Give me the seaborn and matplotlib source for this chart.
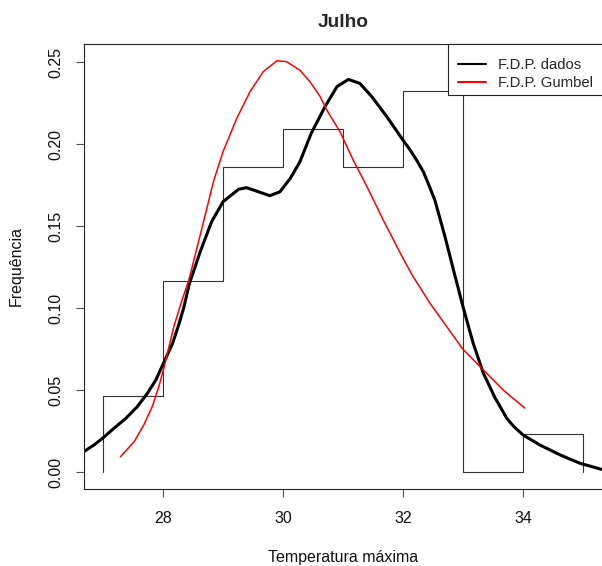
import numpy as np
import pandas as pd
import matplotlib
matplotlib.use("Agg")
import matplotlib.pyplot as plt
from matplotlib.patches import Rectangle
import seaborn as sns

# ---- data ----
bin_edges = [27, 28, 29, 30, 31, 32, 33, 34, 35]
bin_freq = [2/43, 5/43, 8/43, 9/43, 8/43, 10/43, 0.0, 1/43]

kde_x = [26.68, 26.85, 26.99, 27.18, 27.38, 27.57, 27.74, 27.88, 28.02, 28.16,
         28.27, 28.35, 28.44, 28.62, 28.81, 29.00, 29.26, 29.39, 29.59, 29.78,
         29.95, 30.12, 30.28, 30.47, 30.70, 30.90, 31.09, 31.28, 31.48, 31.73,
         32.00, 32.12, 32.23, 32.34, 32.42, 32.53, 32.70, 32.87, 33.00, 33.17,
         33.34, 33.42, 33.53, 33.62, 33.73, 33.84, 34.00, 34.28, 34.62, 34.95,
         35.31]
kde_y = [0.0124, 0.0165, 0.0205, 0.0266, 0.0327, 0.0398, 0.0480, 0.0561, 0.0673, 0.0785,
         0.0907, 0.1008, 0.1150, 0.1343, 0.1526, 0.1648, 0.1724, 0.1734, 0.1709, 0.1685,
         0.1709, 0.1790, 0.1890, 0.2065, 0.2228, 0.2350, 0.2394, 0.2370, 0.2289, 0.2167,
         0.2024, 0.1963, 0.1900, 0.1830, 0.1760, 0.1659, 0.1435, 0.1191, 0.1008, 0.0785,
         0.0602, 0.0541, 0.0455, 0.0398, 0.0327, 0.0280, 0.0226, 0.0165, 0.0104, 0.0053,
         0.0016]

gum_x = [27.29, 27.52, 27.68, 27.82, 27.93, 28.02, 28.10, 28.18, 28.30, 28.43,
         28.62, 28.84, 29.00, 29.23, 29.45, 29.67, 29.90, 30.06, 30.28, 30.45,
         30.62, 30.73, 30.95, 31.17, 31.40, 31.67, 31.90, 32.00, 32.17, 32.45,
         32.73, 33.00, 33.34, 33.67, 34.03]
gum_y = [0.0093, 0.0185, 0.0287, 0.0398, 0.0520, 0.0642, 0.0764, 0.0886, 0.1029, 0.1170,
         0.1445, 0.1770, 0.1953, 0.2157, 0.2319, 0.2441, 0.2508, 0.2502, 0.2451, 0.2380,
         0.2289, 0.2207, 0.2075, 0.1902, 0.1740, 0.1537, 0.1374, 0.1303, 0.1191, 0.1029,
         0.0886, 0.0748, 0.0622, 0.0500, 0.0390]

x_ticks = [28, 30, 32, 34]
y_ticks = [0.00, 0.05, 0.10, 0.15, 0.20, 0.25]
y_tick_labels = ["0.00", "0.05", "0.10", "0.15", "0.20", "0.25"]

title = "Julho"
x_label = "Temperatura máxima"
y_label = "Frequência"
legend_labels = ["F.D.P. dados", "F.D.P. Gumbel"]

# ---- build step path for the histogram outline ----
step_x = [bin_edges[0]] + bin_edges[:-1] + [bin_edges[-1]]
step_y = [0.0] + bin_freq + [0.0]
hist_df = pd.DataFrame({"x": step_x, "y": step_y})
kde_df = pd.DataFrame({"x": kde_x, "y": kde_y})
gum_df = pd.DataFrame({"x": gum_x, "y": gum_y})

sns.set_style("white")
plt.rcParams["font.family"] = ["Liberation Sans", "DejaVu Sans"]

W, H = 602, 566
fig = plt.figure(figsize=(W / 100, H / 100), dpi=100)
left, right, top, bottom = 84, 602, 44, 489
ax = fig.add_axes([left / W, (H - bottom) / H, (right - left) / W, (bottom - top) / H])

sns.lineplot(data=hist_df, x="x", y="y", ax=ax, sort=False, estimator=None,
             drawstyle="steps-post", color="#333333", linewidth=0.8)
sns.lineplot(data=kde_df, x="x", y="y", ax=ax, sort=False, estimator=None,
             color="black", linewidth=2.2, label=legend_labels[0],
             solid_joinstyle="round", solid_capstyle="round")
sns.lineplot(data=gum_df, x="x", y="y", ax=ax, sort=False, estimator=None,
             color="#ff0000", linewidth=1.1, label=legend_labels[1],
             solid_joinstyle="round", solid_capstyle="round")

ax.set_xlim(26.683, 35.317)
ax.set_ylim(-0.01037, 0.2610)

ax.set_xticks(x_ticks)
ax.set_xticklabels([str(t) for t in x_ticks])
ax.set_yticks(y_ticks)
ax.set_yticklabels(y_tick_labels)

for s in ["left", "top", "bottom"]:
    ax.spines[s].set_color("#222222")
    ax.spines[s].set_linewidth(0.8)
ax.spines["right"].set_visible(False)

ax.tick_params(axis="both", which="both", direction="out", length=5.5, width=0.8,
               color="#555555", labelsize=11.5, labelcolor="#111111",
               bottom=True, left=True)
ax.tick_params(axis="x", pad=10.5)
ax.tick_params(axis="y", pad=9)
for lab in ax.get_yticklabels():
    lab.set_rotation(90)
    lab.set_va("center")

ax.set_xlabel(x_label, fontsize=11.5, color="#111111", labelpad=17)
ax.set_ylabel(y_label, fontsize=11.5, color="#111111", labelpad=18)
ax.set_title(title, fontsize=13.8, fontweight="bold", pad=12)

# legend (R style: square box, entries a bit lower than the box top)
leg = ax.legend(loc="upper right", bbox_to_anchor=(602 / W, (H - 49) / H),
                bbox_transform=fig.transFigure, borderaxespad=0, frameon=False,
                fontsize=10.7, handlelength=1.9, handletextpad=0.8,
                borderpad=0.6, labelspacing=0.3)
for h in leg.get_lines():
    h.set_linewidth(1.5)
fig.patches.append(Rectangle((448 / W, (H - 95) / H), 160 / W, 51 / H,
                             transform=fig.transFigure, fill=True, facecolor="white",
                             edgecolor="#222222", linewidth=0.8, zorder=4))
leg.set_zorder(5)
# draw the legend above the box by moving it to the figure level
leg.remove()
fig.legends.append(leg)
leg.set_figure(fig)

fig.savefig("out.png", dpi=100)
